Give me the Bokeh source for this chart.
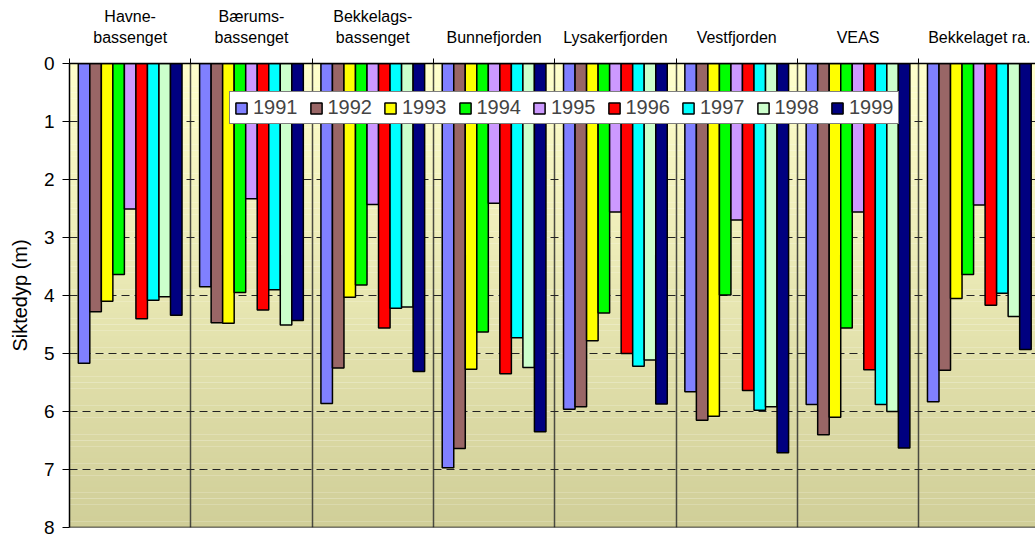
import numpy as np
from bokeh.plotting import figure
from bokeh.models import Range1d, FixedTicker, Span, Legend, LegendItem, ColumnDataSource
from bokeh.embed import file_html
from bokeh.resources import INLINE

groups = ["Havne-\nbassenget", "Bærums-\nbassenget", "Bekkelags-\nbassenget", "Bunnefjorden",
          "Lysakerfjorden", "Vestfjorden", "VEAS", "Bekkelaget ra."]
years = ["1991", "1992", "1993", "1994", "1995", "1996", "1997", "1998", "1999"]
v1991 = [5.17, 3.85, 5.86, 6.97, 5.96, 5.66, 5.88, 5.83]
v1992 = [4.28, 4.47, 5.25, 6.64, 5.92, 6.15, 6.40, 5.29]
v1993 = [4.10, 4.48, 4.03, 5.27, 4.78, 6.08, 6.10, 4.05]
v1994 = [3.64, 3.95, 3.82, 4.63, 4.30, 3.99, 4.56, 3.64]
v1995 = [2.51, 2.33, 2.43, 2.41, 2.56, 2.70, 2.56, 2.44]
v1996 = [4.40, 4.25, 4.56, 5.35, 5.00, 5.64, 5.28, 4.17]
v1997 = [4.08, 3.90, 4.22, 4.73, 5.22, 5.98, 5.88, 3.96]
v1998 = [4.02, 4.51, 4.20, 5.24, 5.11, 5.92, 6.00, 4.36]
v1999 = [4.34, 4.43, 5.31, 6.35, 5.87, 6.71, 6.63, 4.93]
series = [v1991, v1992, v1993, v1994, v1995, v1996, v1997, v1998, v1999]
colors = ["#8080FF", "#996666", "#FFFF00", "#00FF00", "#CC99FF", "#FF0000", "#00FFFF", "#CCFFCC", "#000080"]

FONT = "Liberation Sans"
ng = len(groups)

p = figure(width=1035, height=539, x_range=Range1d(0, 7.963), y_range=Range1d(8, 0),
           output_backend="svg", toolbar_location=None, x_axis_location="above",
           min_border_left=69, min_border_right=0, min_border_top=63, min_border_bottom=12)
p.outline_line_color = None
p.background_fill_color = "white"

# gradient background
edges = np.linspace(0, 8, 81)
top_c = np.array([255, 255, 204])
bot_c = np.array([208, 206, 152])
bg_cols = []
for i in range(80):
    t = (edges[i] + edges[i + 1]) / 2 / 8
    c = top_c + (bot_c - top_c) * t
    bg_cols.append("#%02x%02x%02x" % tuple(int(round(v)) for v in c))
p.quad(left=0, right=ng, bottom=edges[1:], top=edges[:-1], fill_color=bg_cols,
       line_color=None, level="image")

# bars
bw = 0.095
items = []
for k, (yr, vals, col) in enumerate(zip(years, series, colors)):
    xs = [i + 0.5 + (k - 4) * bw for i in range(ng)]
    src = ColumnDataSource(dict(x=xs, v=vals))
    r = p.vbar(x="x", width=bw, top=0, bottom="v", source=src, fill_color=col,
               line_color="black", line_width=1.5)
    items.append(LegendItem(label=yr, renderers=[r]))

legend = Legend(items=items, orientation="horizontal", location=(160, 403),
                label_text_font=FONT, label_text_font_size="20px", glyph_width=14, glyph_height=14,
                label_standoff=5, spacing=11, padding=4, margin=0,
                border_line_color="black", border_line_width=1,
                background_fill_color="white", background_fill_alpha=1.0)
p.add_layout(legend)

# x axis (top)
xa = p.xaxis[0]
xa.ticker = FixedTicker(ticks=[i + 0.5 for i in range(ng)], minor_ticks=list(range(ng + 1)))
xa.major_label_overrides = {i + 0.5: g for i, g in enumerate(groups)}
xa.major_tick_out = 0
xa.major_tick_in = 0
xa.minor_tick_out = 5
xa.minor_tick_in = 0
xa.minor_tick_line_color = "black"
xa.axis_line_color = "black"
xa.axis_line_width = 1.5
xa.major_label_text_font = FONT
xa.major_label_text_font_size = "16px"
xa.major_label_text_color = "black"
xa.major_label_standoff = 13

# y axis
ya = p.yaxis[0]
ya.ticker = FixedTicker(ticks=list(range(9)))
ya.major_tick_out = 7
ya.major_tick_in = 0
ya.minor_tick_out = 0
ya.minor_tick_in = 0
ya.axis_line_color = "black"
ya.axis_line_width = 1.5
ya.major_tick_line_color = "black"
ya.major_label_text_font = FONT
ya.major_label_text_font_size = "19px"
ya.major_label_text_color = "black"
ya.major_label_standoff = 8
ya.axis_label = "Siktedyp (m)"
ya.axis_label_text_font = FONT
ya.axis_label_text_font_size = "20px"
ya.axis_label_text_font_style = "normal"
ya.axis_label_text_color = "black"
ya.axis_label_standoff = 10

# grids
p.xgrid.ticker = FixedTicker(ticks=list(range(1, ng)))
p.xgrid.grid_line_color = "#4a4a40"
p.xgrid.grid_line_width = 1.5
p.ygrid.ticker = FixedTicker(ticks=list(range(1, 8)))
p.ygrid.grid_line_color = "#222222"
p.ygrid.grid_line_width = 1
p.ygrid.grid_line_dash = "8 5"

p.add_layout(Span(location=8, dimension="width", line_color="black", line_width=1.5))

open("out.html", "w").write(file_html(p, INLINE))
